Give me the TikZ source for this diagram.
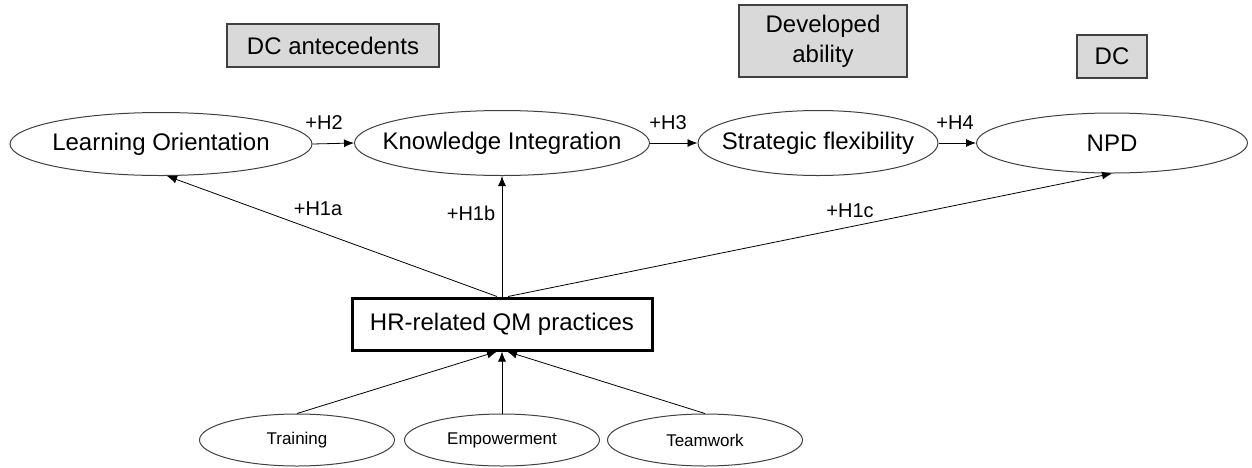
\documentclass[tikz,border=0pt]{standalone}
\usepackage{fontspec}
\setmainfont{Liberation Sans}
\usetikzlibrary{shapes.geometric,arrows.meta}
\definecolor{boxgray}{HTML}{D9D9D9}
\definecolor{linegray}{HTML}{404040}

\begin{document}
\begin{tikzpicture}
    [
        x=0.5pt, y=-0.5pt,
        ->,>={Latex[length=5pt,width=4pt]},
        factor/.style={ellipse, draw=linegray, line width=0.5pt, inner sep=0pt, font=\fontsize{12}{14}\selectfont},
        item/.style={ellipse, draw=linegray, line width=0.5pt, inner sep=0pt, minimum width=97.5pt, minimum height=26pt, font=\fontsize{8.5}{10}\selectfont},
        stage/.style={rectangle, draw=linegray, fill=boxgray, line width=0.6pt, inner sep=0pt, align=center, font=\fontsize{12}{15}\selectfont},
        hyp/.style={inner sep=0pt, font=\fontsize{10}{12}\selectfont},
    ]
    \useasboundingbox (0,0) rectangle (1252,467);

    % stages
    \node (dcant) at (333,45.5) [stage, minimum width=106pt, minimum height=21.5pt] {DC antecedents};
    \node (devab) at (823,41)   [stage, minimum width=84pt, minimum height=36pt] {Developed\\ability};
    \node (dc)    at (1112,56.5) [stage, minimum width=35pt, minimum height=21.5pt] {DC};

    % constructs
    \node (lo)  at (161,144)  [factor, minimum width=151pt, minimum height=31.5pt] {\makebox[0pt]{Learning Orientation}};
    \node (ki)  at (502,143)  [factor, minimum width=147.5pt, minimum height=32.5pt] {\makebox[0pt]{Knowledge Integration}};
    \node (sf)  at (818,143)  [factor, minimum width=120pt, minimum height=32.5pt] {\makebox[0pt]{Strategic flexibility}};
    \node (npd) at (1112,143) [factor, minimum width=135.5pt, minimum height=30pt] {\makebox[0pt]{NPD}};

    \node (hr) at (502,324) [rectangle, draw, line width=1.5pt, minimum width=150pt, minimum height=26pt, inner sep=0pt, font=\fontsize{12}{14}\selectfont] {HR-related QM practices};

    % practices
    \node (training)    at (297,440) [item] {\makebox[0pt]{Training}};
    \node (empowerment) at (502,440) [item] {\makebox[0pt]{Empowerment}};
    \node (teamwork)    at (705,440) [item] {\makebox[0pt]{Teamwork}};

    % hypotheses
    \node (h2)  at (324,123) [hyp] {+H2};
    \node (h3)  at (668,123) [hyp] {+H3};
    \node (h4)  at (955,123) [hyp] {+H4};
    \node (h1a) at (318,209) [hyp] {+H1a};
    \node (h1b) at (471,213) [hyp] {+H1b};
    \node (h1c) at (850,211) [hyp] {+H1c};

    \draw (lo.east) -- (ki.west);
    \draw (ki.east) -- (sf.west);
    \draw (sf.east) -- (npd.west);

    \draw ([xshift=-2.5pt]hr.north) -- ([xshift=3pt]lo.south);
    \draw (hr.north) -- (ki.south);
    \draw ([xshift=3pt]hr.north) -- (npd.south);

    \draw (training.north)    -- ([xshift=-2.5pt]hr.south);
    \draw (empowerment.north) -- (hr.south);
    \draw (teamwork.north)    -- ([xshift=2.5pt]hr.south);

\end{tikzpicture}
\end{document}
